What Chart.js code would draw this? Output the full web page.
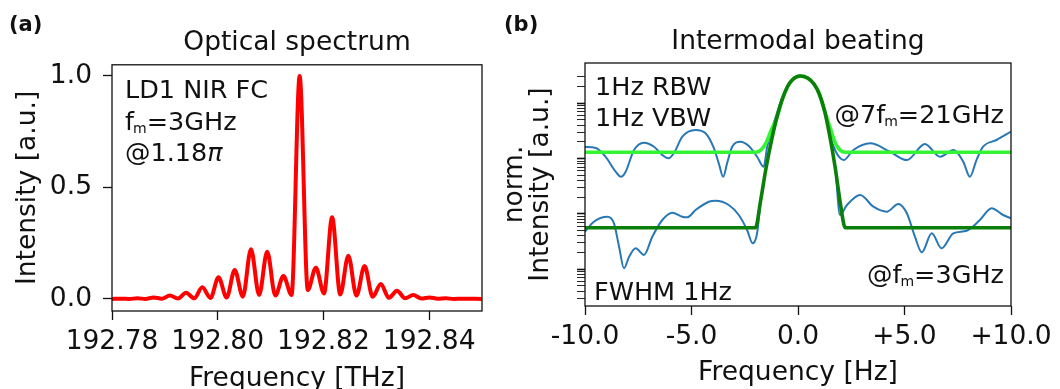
<!DOCTYPE html>
<html>
<head>
<meta charset="utf-8">
<script src="https://cdn.jsdelivr.net/npm/chart.js@4.4.1/dist/chart.umd.min.js"></script>
<style>
  body { margin: 0; width: 1060px; height: 389px; background: #fff; position: relative; overflow: hidden; font-family: "DejaVu Sans", sans-serif; color: #111; }
  canvas { position: absolute; top: 0; }
  #specChart { left: 0; }
  #beatChart { left: 490px; }
  .note { position: absolute; font-size: 25.5px; line-height: 25px; white-space: nowrap; }
  .note sub { font-size: 14px; line-height: 0; vertical-align: -3px; margin-left: -1px; }
  .panel { position: absolute; font-size: 21px; line-height: 21px; font-weight: bold; }
</style>
</head>
<body>
<canvas id="specChart" width="530" height="400"></canvas>
<canvas id="beatChart" width="570" height="400"></canvas>

<div class="panel" style="left:9px; top:14px;">(a)</div>
<div class="panel" style="left:504px; top:14px;">(b)</div>

<div class="note" style="left:125px; top:77px;">LD1 NIR FC</div>
<div class="note" style="left:125px; top:109px;">f<sub>m</sub>=3GHz</div>
<div class="note" style="left:125px; top:140px;">@1.18<i>π</i></div>

<div class="note" style="left:595px; top:74px;">1Hz RBW</div>
<div class="note" style="left:595px; top:105px;">1Hz VBW</div>
<div class="note" style="left:594px; top:279px;">FWHM 1Hz</div>
<div class="note" style="right:56px; top:102px;">@7f<sub>m</sub>=21GHz</div>
<div class="note" style="right:56px; top:262px;">@f<sub>m</sub>=3GHz</div>

<script>
"use strict";

// ===== panel (a): optical comb spectrum, peaks and valleys =====
const specFreq = [
    192.7800, 192.78173, 192.78327, 192.7848, 192.78634, 192.78787, 192.78941, 192.79094, 192.79248,
    192.79401, 192.79555, 192.79708, 192.79862, 192.80015, 192.80169, 192.80322, 192.80476,
    192.80629, 192.80783, 192.80936, 192.8109, 192.81243, 192.81397, 192.8155, 192.81704,
    192.81857, 192.82011, 192.82164, 192.82318, 192.82471, 192.82625, 192.82778, 192.82932,
    192.83085, 192.83239, 192.83392, 192.83546, 192.83699, 192.83853, 192.84006, 192.8416,
    192.84313, 192.84467, 192.8462, 192.8500
];
const specInt = [
    0.000, 0.001, 0.000, 0.003, 0.000, 0.007, 0.001, 0.015, 0.002,
    0.028, 0.003, 0.052, 0.004, 0.097, 0.006, 0.130, 0.010,
    0.223, 0.018, 0.212, 0.015, 0.103, 0.018, 1.000, 0.040,
    0.140, 0.025, 0.366, 0.020, 0.194, 0.015, 0.148, 0.010,
    0.067, 0.005, 0.037, 0.003, 0.018, 0.002, 0.007, 0.001,
    0.003, 0.000, 0.001, 0.000
];
const specTicksX = [192.78, 192.80, 192.82, 192.84];

// ===== panel (b): intermodal beat notes (log axis) =====
// measured trace @ 7 fm = 21 GHz
const beatHiFreq = [
    -10.0, -9.49, -9.03, -8.56, -8.32, -8.09, -7.70, -7.23, -6.76, -6.37, -6.09, -5.83, -5.43,
    -4.81, -4.34, -3.95, -3.72, -3.51, -3.33, -3.09, -2.70, -2.31, -1.92, -1.61, -1.45, -1.25,
    -1.0, -0.75, -0.5, -0.25, 0.1, 0.45, 0.75, 1.0, 1.25, 1.5, 1.75, 1.95, 2.14, 2.6, 3.39,
    4.32, 5.11, 5.96, 6.67, 7.29, 7.76, 8.07, 8.38, 8.69, 9.32, 10.0
];
const beatHiVal = [
    0.162, 0.156, 0.107, 0.058, 0.047, 0.058, 0.143, 0.194, 0.164, 0.116, 0.101, 0.125, 0.249,
    0.329, 0.287, 0.155, 0.082, 0.047, 0.082, 0.164, 0.202, 0.169, 0.108, 0.071, 0.16, 0.32,
    0.64, 1.25, 2.05, 2.75, 3.118, 2.90, 2.28, 1.50, 0.75, 0.26, 0.14, 0.105, 0.094, 0.143, 0.189,
    0.133, 0.094, 0.184, 0.108, 0.143, 0.088, 0.047, 0.094, 0.164, 0.217, 0.307
];
// measured trace @ fm = 3 GHz
const beatLoFreq = [
    -10.0, -9.6, -8.95, -8.64, -8.40, -8.17, -7.93, -7.62, -7.23, -6.84, -6.37, -5.90, -5.43,
    -5.20, -4.81, -4.19, -3.87, -3.25, -2.78, -2.39, -2.13, -1.92, -1.75, -1.5, -1.25, -1.0,
    -0.75, -0.5, -0.25, 0.1, 0.45, 0.75, 1.0, 1.25, 1.5, 1.75, 1.97, 2.3, 2.92, 3.54, 4.17,
    4.71, 5.11, 5.49, 5.81, 6.28, 6.74, 7.29, 7.92, 8.54, 9.09, 9.63, 10.0
];
const beatLoVal = [
    0.00477, 0.00714, 0.0089, 0.00676, 0.00255, 0.00104, 0.00168, 0.00239, 0.00181, 0.00387, 0.00776, 0.01051, 0.0089,
    0.00868, 0.01176, 0.01662, 0.01733, 0.01448, 0.00955, 0.00512, 0.00294, 0.00446, 0.01784, 0.0676, 0.2081, 0.5422,
    1.147, 1.972, 2.694, 3.118, 2.868, 2.234, 1.473, 0.7256, 0.2458, 0.0676, 0.00955, 0.0145, 0.02197, 0.01349, 0.01096,
    0.0151, 0.01025, 0.00387, 0.00202, 0.00446, 0.00239, 0.00446, 0.00497, 0.00776, 0.01263, 0.00955, 0.00833
];
// fitted line shapes (light green: 21 GHz floor, dark green: 3 GHz floor)
const fitFreq = [
    -10, -2.0, -1.75, -1.5, -1.25, -1.0, -0.75, -0.5, -0.25, 0.1,
    0.45, 0.75, 1.0, 1.25, 1.5, 1.75, 2.0, 2.22, 10
];
const fitHiVal = [
    0.130, 0.130, 0.1422, 0.192, 0.3325, 0.5422, 1.147, 1.972, 2.694, 3.118,
    2.868, 2.234, 1.473, 0.7256, 0.370, 0.192, 0.139, 0.130, 0.130
];
const fitLoVal = [
    0.00563, 0.00563, 0.01784, 0.0676, 0.2081, 0.5422, 1.147, 1.972, 2.694, 3.118,
    2.868, 2.234, 1.473, 0.7256, 0.2458, 0.0676, 0.01448, 0.00563, 0.00563
];
const beatTicksX = [-10, -5, 0, 5, 10];

const FONT_SIZE = 26.5;
const INK = '#111';

Chart.defaults.font.family = 'DejaVu Sans';
Chart.defaults.font.size = FONT_SIZE;
Chart.defaults.color = INK;

function toPoints(xs, ys) {
    return xs.map((x, i) => ({ x: x, y: ys[i] }));
}

// matplotlib-like closed frame round the plot area
const frameBox = {
    id: 'frameBox',
    afterDatasetsDraw(chart) {
        const { ctx, chartArea: a } = chart;
        ctx.save();
        ctx.strokeStyle = INK;
        ctx.lineWidth = 1.3;
        ctx.strokeRect(a.left, a.top, a.right - a.left, a.bottom - a.top);
        ctx.restore();
    }
};

const tickGrid = { drawOnChartArea: false, drawTicks: true, tickLength: 9, tickWidth: 1.3, tickColor: INK };

function lineSet(xs, ys, color, width) {
    return {
        data: toPoints(xs, ys),
        borderColor: color,
        borderWidth: width,
        pointRadius: 0,
        fill: false,
        cubicInterpolationMode: 'monotone'
    };
}

// ---- panel (a)
new Chart(document.getElementById('specChart'), {
    type: 'line',
    data: { datasets: [lineSet(specFreq, specInt, '#ff0000', 4)] },
    options: {
        responsive: false,
        animation: false,
        events: [],
        layout: { padding: { left: 0, right: 48, top: 0, bottom: 0 } },
        plugins: {
            legend: { display: false },
            tooltip: { enabled: false },
            title: {
                display: true, text: 'Optical spectrum', fullSize: false, color: INK,
                font: { size: FONT_SIZE, weight: 'normal' }, padding: { top: 27, bottom: 6 }
            }
        },
        scales: {
            x: {
                type: 'linear', min: 192.78, max: 192.85,
                afterBuildTicks: s => { s.ticks = specTicksX.map(v => ({ value: v })); },
                afterFit: s => { s.height = 89; },
                ticks: { autoSkip: false, maxRotation: 0, padding: 6, callback: v => Number(v).toFixed(2) },
                grid: tickGrid,
                border: { display: false },
                title: { display: true, text: 'Frequency [THz]', padding: { top: 0, bottom: 4.5 } }
            },
            y: {
                type: 'linear', min: -0.054, max: 1.05,
                afterFit: s => { s.width = 112; },
                ticks: { stepSize: 0.5, includeBounds: false, autoSkip: false, padding: 11, callback: v => Number(v).toFixed(1) },
                grid: tickGrid,
                border: { display: false },
                title: { display: true, text: 'Intensity [a.u.]', padding: { top: 12, bottom: 0 } }
            }
        }
    },
    plugins: [frameBox]
});

// ---- panel (b)
function isLogStep(v) {
    const m = v / Math.pow(10, Math.floor(Math.log10(v) + 1e-9));
    return Math.abs(m - Math.round(m)) < 1e-6;
}

new Chart(document.getElementById('beatChart'), {
    type: 'line',
    data: {
        datasets: [
            lineSet(fitFreq, fitLoVal, '#0a7f0a', 3.6),
            lineSet(fitFreq, fitHiVal, '#33f533', 3.6),
            lineSet(beatHiFreq, beatHiVal, '#2878b5', 2),
            lineSet(beatLoFreq, beatLoVal, '#2878b5', 2)
        ]
    },
    options: {
        responsive: false,
        animation: false,
        events: [],
        layout: { padding: { left: 0, right: 49, top: 0, bottom: 0 } },
        plugins: {
            legend: { display: false },
            tooltip: { enabled: false },
            title: {
                display: true, text: 'Intermodal beating', fullSize: false, color: INK,
                font: { size: FONT_SIZE, weight: 'normal' }, padding: { top: 26.5, bottom: 4.7 }
            }
        },
        scales: {
            x: {
                type: 'linear', min: -10, max: 10,
                afterBuildTicks: s => { s.ticks = beatTicksX.map(v => ({ value: v })); },
                afterFit: s => { s.height = 94; },
                ticks: {
                    autoSkip: false, maxRotation: 0, padding: 6,
                    callback: v => (v > 0 ? '+' : '') + Number(v).toFixed(1)
                },
                grid: tickGrid,
                border: { display: false },
                title: { display: true, text: 'Frequency [Hz]', padding: { top: 0, bottom: 10.8 } }
            },
            y: {
                type: 'logarithmic', min: 2.16e-4, max: 5.356,
                afterBuildTicks: s => { s.ticks = s.ticks.filter(t => t.value <= 3.5 && isLogStep(t.value)); },
                afterFit: s => { s.width = 95; },
                ticks: { display: false, autoSkip: false },
                grid: {
                    drawOnChartArea: false, drawTicks: true, tickLength: 8, tickColor: INK,
                    tickWidth: c => (c.tick && c.tick.major ? 1.6 : 0.9)
                },
                border: { display: false },
                title: {
                    display: true, text: ['norm.', 'Intensity [a.u.]'],
                    font: { size: FONT_SIZE, lineHeight: 0.95 }, padding: { top: 13, bottom: 0 }
                }
            }
        }
    },
    plugins: [frameBox]
});
</script>
</body>
</html>
